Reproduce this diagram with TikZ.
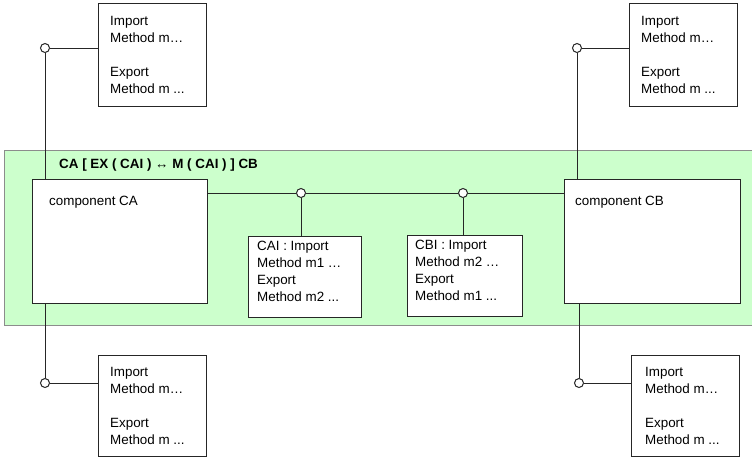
\documentclass[tikz,border=0pt]{standalone}
\usepackage{fontspec}
\setmainfont{Liberation Sans}
\definecolor{bandfill}{HTML}{CCFFCC}
\definecolor{bandline}{HTML}{8C8C8C}
\definecolor{ink}{HTML}{262626}
\begin{document}
\begin{tikzpicture}[x=1pt,y=-1pt,
  frame/.style={draw=ink, fill=white, line width=1pt, inner sep=0pt,
    anchor=north west},
  txt/.style={anchor=north west, align=left, inner sep=0pt, text=black,
    font=\fontsize{13.4}{17}\selectfont},
  txtc/.style={txt, font=\fontsize{13.4}{16.7}\selectfont},
  lbl/.style={anchor=base west, inner sep=0pt, text=black,
    font=\fontsize{13.4}{16}\selectfont},
  port/.style={circle, draw=ink, fill=white, line width=1pt,
    minimum size=9pt, inner sep=0pt},
  wire/.style={draw=ink, line width=1pt}]
\clip (0,0) rectangle (752,459);
\fill[white] (0,0) rectangle (752,459);

% composition band
\draw[fill=bandfill, draw=bandline, line width=1pt] (4,150) rectangle (760,325);
\node[lbl, font=\fontsize{13.4}{16}\selectfont\bfseries] (title) at (59,168)
  {CA [ EX ( CAI ) ↔ M ( CAI ) ] CB};

% components
\node[frame, minimum width=175pt, minimum height=124pt] (ca) at (32,179) {};
\node[lbl] (catxt) at (49,205) {component CA};
\node[frame, minimum width=176pt, minimum height=124pt] (cb) at (564,179) {};
\node[lbl] (cbtxt) at (575,205) {component CB};

% interface boxes inside the band
\node[frame, minimum width=113pt, minimum height=81pt] (cai) at (248,236) {};
\node[txtc] (caitxt) at (257,241.4)
  {CAI : Import\\Method m1 …\\Export\\Method m2 ...};
\node[frame, minimum width=115pt, minimum height=81pt] (cbi) at (407,235) {};
\node[txtc] (cbitxt) at (415,240.4)
  {CBI : Import\\Method m2 …\\Export\\Method m1 ...};

% outer interface boxes
\node[frame, minimum width=108pt, minimum height=103pt] (tl) at (98,3) {};
\node[txt] (tltxt) at (110,16.4) {Import\\Method m…\\[17pt]Export\\Method m ...};
\node[frame, minimum width=108pt, minimum height=103pt] (tr) at (629,3) {};
\node[txt] (trtxt) at (641,16.4) {Import\\Method m…\\[17pt]Export\\Method m ...};
\node[frame, minimum width=108pt, minimum height=101pt] (bl) at (98,355) {};
\node[txt] (bltxt) at (110,367.4) {Import\\Method m…\\[17pt]Export\\Method m ...};
\node[frame, minimum width=108pt, minimum height=101pt] (br) at (631,355) {};
\node[txt] (brtxt) at (645,367.4) {Import\\Method m…\\[17pt]Export\\Method m ...};

% ports
\node[port] (ptl) at (45,48) {};
\node[port] (pbl) at (45,383) {};
\node[port] (ptr) at (577,48) {};
\node[port] (pbr) at (579,383) {};
\node[port] (pa) at (301,193) {};
\node[port] (pb) at (463,193) {};

% connectors
\draw[wire] (ptl) -- (ptl -| tl.west);
\draw[wire] (ptl) -- (ptl |- ca.north);
\draw[wire] (pbl) -- (pbl -| bl.west);
\draw[wire] (pbl) -- (pbl |- ca.south);
\draw[wire] (ptr) -- (ptr -| tr.west);
\draw[wire] (ptr) -- (ptr |- cb.north);
\draw[wire] (pbr) -- (pbr -| br.west);
\draw[wire] (pbr) -- (pbr |- cb.south);
\draw[wire] (pa -| ca.east) -- (pa);
\draw[wire] (pa) -- (pb);
\draw[wire] (pb) -- (pb -| cb.west);
\draw[wire] (pa) -- (pa |- cai.north);
\draw[wire] (pb) -- (pb |- cbi.north);
\end{tikzpicture}
\end{document}
